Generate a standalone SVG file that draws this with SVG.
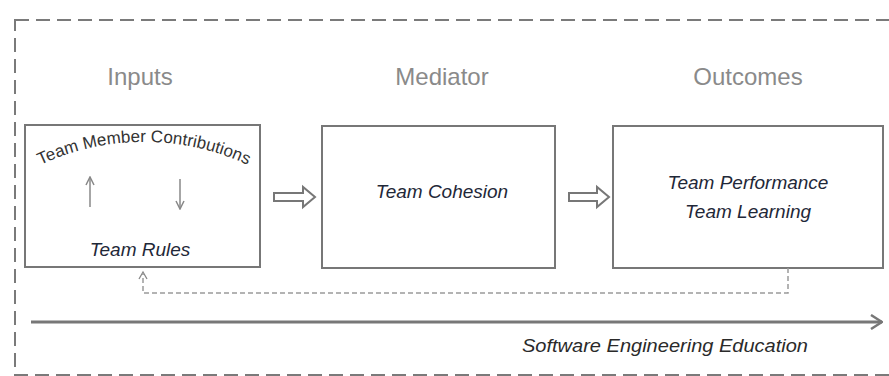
<svg xmlns="http://www.w3.org/2000/svg" width="889" height="376" viewBox="0 0 889 376">
  <style>
    .frame { fill: none; stroke: #7a7a7a; stroke-width: 2; stroke-dasharray: 14 7; }
    .box { fill: #ffffff; stroke: #777777; stroke-width: 2; }
    .head { font-family: "Liberation Sans", Arial, sans-serif; font-size: 24px; fill: #8a8a8a; text-anchor: middle; }
    .label { font-family: "Liberation Sans", Arial, sans-serif; font-size: 19px; font-style: italic; fill: #1f2838; text-anchor: middle; }
    .curve { font-family: "Liberation Sans", Arial, sans-serif; font-size: 17px; fill: #333333; }
    .thin { fill: none; stroke: #888888; stroke-width: 1.5; }
    .hollow { fill: #ffffff; stroke: #777777; stroke-width: 2; stroke-linejoin: miter; }
    .axis { fill: none; stroke: #777777; stroke-width: 3; }
    .feedback { fill: none; stroke: #9a9a9a; stroke-width: 1.5; stroke-dasharray: 5 3; }
    .caption { font-family: "Liberation Sans", Arial, sans-serif; font-size: 18px; font-style: italic; fill: #2a2a2a; }
  </style>
  <defs>
    <marker id="chev" viewBox="0 0 10 10" refX="9" refY="5" markerWidth="10" markerHeight="10" markerUnits="userSpaceOnUse" orient="auto">
      <path d="M1 1 L9 5 L1 9" fill="none" stroke="#888888" stroke-width="1.5"/>
    </marker>
    <marker id="axisHead" viewBox="0 0 14 16" refX="13" refY="8" markerWidth="14" markerHeight="16" markerUnits="userSpaceOnUse" orient="auto">
      <path d="M2 1 L13 8 L2 15" fill="none" stroke="#777777" stroke-width="2.5"/>
    </marker>
    <path id="arcPath" d="M 32 169 A 245 245 0 0 1 256 169"/>
  </defs>

  <rect width="889" height="376" fill="#ffffff"/>

  <!-- outer dashed frame, open beyond the right edge -->
  <rect class="frame" x="15" y="20" width="900" height="355"/>

  <!-- column headings -->
  <text class="head" x="140" y="85">Inputs</text>
  <text class="head" x="442" y="85">Mediator</text>
  <text class="head" x="748" y="85">Outcomes</text>

  <g id="inputs">
    <rect class="box" x="25" y="125" width="235" height="142"/>
    <text class="curve"><textPath href="#arcPath" startOffset="50%" text-anchor="middle">Team Member Contributions</textPath></text>
    <line class="thin" x1="90" y1="207" x2="90" y2="177" marker-end="url(#chev)"/>
    <line class="thin" x1="180" y1="179" x2="180" y2="209" marker-end="url(#chev)"/>
    <text class="label" x="140" y="256">Team Rules</text>
  </g>

  <g id="mediator">
    <rect class="box" x="322" y="126" width="233" height="142"/>
    <text class="label" x="442" y="198">Team Cohesion</text>
  </g>

  <g id="outcomes">
    <rect class="box" x="613" y="126" width="270" height="142"/>
    <text class="label" x="748" y="189">Team Performance</text>
    <text class="label" x="748" y="218">Team Learning</text>
  </g>

  <g id="connectors">
    <!-- block arrows between stages -->
    <polygon class="hollow" points="274,193 303,193 303,187 315,197 303,207 303,201 274,201"/>
    <polygon class="hollow" points="569,193 597,193 597,187 609,197 597,207 597,201 569,201"/>
    <!-- feedback loop from outcomes back to inputs -->
    <path class="feedback" d="M 788 268 V 293 H 143 V 274"/>
    <path d="M 139 279 L 143 272 L 147 279" fill="none" stroke="#888888" stroke-width="1.3"/>
    <!-- education axis -->
    <line class="axis" x1="31" y1="322" x2="882" y2="322" marker-end="url(#axisHead)"/>
  </g>

  <text class="caption" x="522" y="352" textLength="286" lengthAdjust="spacingAndGlyphs">Software Engineering Education</text>
</svg>
